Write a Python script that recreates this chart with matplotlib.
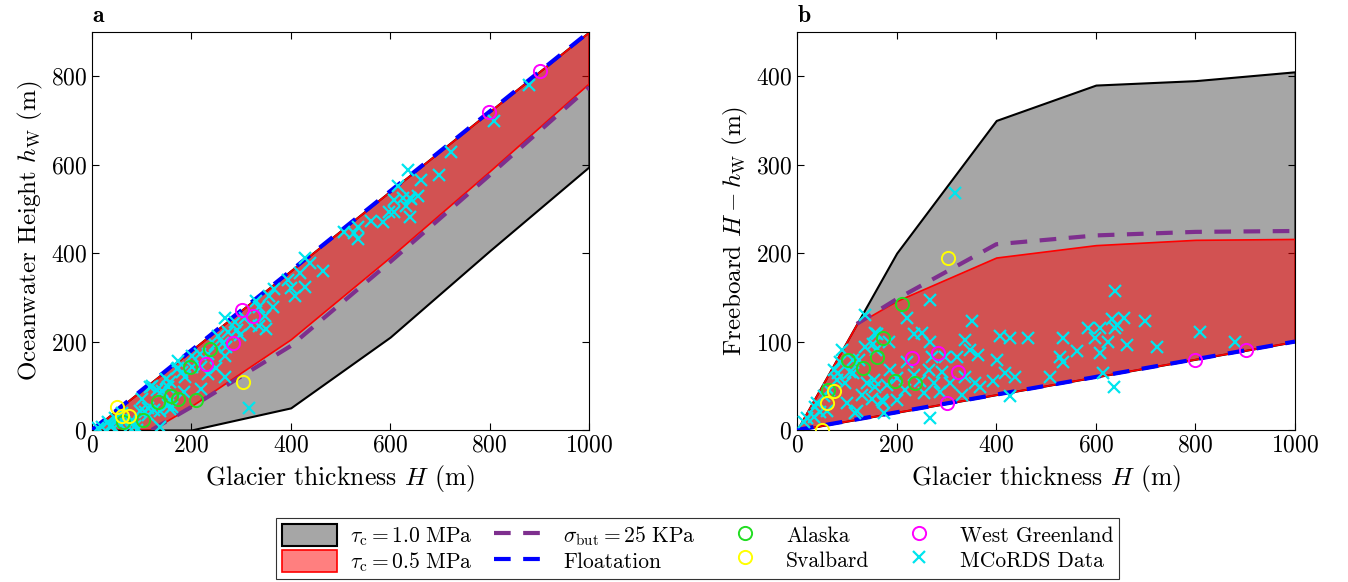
import matplotlib
matplotlib.use("Agg")
import matplotlib.pyplot as plt
import numpy as np
from matplotlib.patches import Patch
from matplotlib.lines import Line2D

plt.rcParams["font.family"] = "serif"
plt.rcParams["font.serif"] = ["cmr10", "DejaVu Serif"]
plt.rcParams["mathtext.fontset"] = "cm"
plt.rcParams["axes.formatter.use_mathtext"] = True

# model envelopes: glacier thickness vs. max freeboard (H - hw)
H_env = [0, 120, 200, 400, 600, 800, 1000]
fb_tau10 = [0, 120, 200, 350, 390, 395, 405]
fb_tau05 = [0, 120, 146, 195, 209, 215, 216]
H_but = [120, 200, 400, 600, 800, 1000]
fb_but = [120, 148, 210, 220, 224, 225]
H_float = [0, 1000]
hw_float = [0, 900]

# observations (H, oceanwater height)
H_alaska = [63, 102, 133, 160, 173, 197, 210, 237]
hw_alaska = [18, 23, 63, 77, 69, 142, 68, 184]
H_svalbard = [51, 61, 75, 304]
hw_svalbard = [51, 31, 31, 109]
H_wgreen = [230, 284, 301, 324, 799, 902]
hw_wgreen = [149, 197, 271, 258, 720, 811]

# MCoRDS: thickness and freeboard
H_mcords = [137, 161, 185, 153, 158, 124, 87, 107, 74, 80, 64, 97, 141, 154, 181, 187,
            117, 171, 174, 33, 40, 54, 201, 201,
            267, 220, 351, 234, 250, 337, 408, 267, 348, 270, 297, 321, 364, 401, 220, 291,
            234, 264, 337, 247, 274, 307, 357, 394, 367, 217, 254, 287, 331, 267,
            639, 428, 464, 535, 585, 608, 632, 639, 598, 625, 528, 562, 535, 608, 438, 418,
            508, 615, 636, 428,
            656, 642, 699, 809, 662, 722, 880,
            157, 173, 120, 36, 83, 113, 90, 137, 113, 157, 317, 13, 20, 47, 60, 100, 130, 150]
fb_mcords = [130, 108, 100, 97, 91, 79, 77, 66, 68, 57, 45, 53, 53, 57, 51, 68,
             19, 34, 19, 15, 30, 38, 59, 34,
             147, 127, 123, 108, 110, 102, 106, 100, 91, 83, 83, 83, 85, 79, 77, 66,
             62, 68, 60, 55, 53, 53, 53, 55, 49, 45, 42, 43, 40, 13,
             157, 104, 104, 104, 115, 115, 125, 115, 104, 100, 83, 89, 77, 87, 60, 64,
             60, 64, 49, 38,
             127, 119, 123, 111, 96, 94, 100,
             110, 32, 21, 26, 64, 79, 91, 94, 64, 49, 268, 9, 14, 20, 22, 30, 40, 35]

H_env = np.array(H_env)
fb_tau10 = np.array(fb_tau10)
fb_tau05 = np.array(fb_tau05)
H_but = np.array(H_but)
fb_but = np.array(fb_but)
H_float = np.array(H_float)
hw_float = np.array(hw_float)
H_mcords = np.array(H_mcords)
fb_mcords = np.array(fb_mcords)
hw_mcords = H_mcords - fb_mcords
hw_float_env = np.interp(H_env, H_float, hw_float)

gray = "#a6a6a6"
red_face = (1, 0, 0, 0.5)
purple = "#7e2f8e"

fig = plt.figure(figsize=(13.48, 5.82), dpi=100)
ax1 = fig.add_axes([0.0682, 0.2612, 0.3687, 0.6838])
ax2 = fig.add_axes([0.5913, 0.2612, 0.3694, 0.6838])

mk_circle = dict(marker="o", ls="none", mfc="none", ms=9.5, mew=1.4)
mk_cross = dict(marker="x", ls="none", color="#00e5ee", ms=8, mew=1.6)

for ax, panel in [(ax1, "a"), (ax2, "b")]:
    if panel == "a":
        lo10, lo05, up = H_env - fb_tau10, H_env - fb_tau05, hw_float_env
        but = H_but - fb_but
        fl = hw_float
        obs = lambda H, hw: (np.array(H), np.array(hw))
    else:
        lo10, lo05, up = fb_tau10, fb_tau05, H_env - hw_float_env
        but = fb_but
        fl = H_float - hw_float
        obs = lambda H, hw: (np.array(H), np.array(H) - np.array(hw))

    ax.fill_between(H_env, lo10, up, facecolor=gray, edgecolor="k", lw=1.5, zorder=1)
    ax.fill_between(H_env, lo05, up, facecolor=red_face, edgecolor="red", lw=1.2, zorder=2)
    ax.plot(H_but, but, ls=(0, (4, 3)), color=purple, lw=3, zorder=3)
    ax.plot(H_float, fl, ls=(0, (4, 3)), color="#0000ff", lw=3, zorder=4)

    x, y = obs(H_mcords, hw_mcords)
    ax.plot(x, y, zorder=5, **mk_cross)
    x, y = obs(H_alaska, hw_alaska)
    ax.plot(x, y, mec="#22dd22", zorder=6, **mk_circle)
    x, y = obs(H_svalbard, hw_svalbard)
    ax.plot(x, y, mec="#ffff00", zorder=6, **mk_circle)
    x, y = obs(H_wgreen, hw_wgreen)
    ax.plot(x, y, mec="#ff00ff", zorder=6, **mk_circle)

    ax.set_xlim(0, 1000)
    ax.set_xticks(range(0, 1001, 200))
    ax.tick_params(direction="in", top=True, right=True, labelsize=17, length=5)
    ax.set_xlabel(r"Glacier thickness $H$ (m)", fontsize=18.5)
    ax.text(0.0, 1.012, r"$\mathbf{%s}$" % panel, transform=ax.transAxes,
            ha="left", va="bottom", fontsize=17)

ax1.set_ylim(0, 900)
ax1.set_yticks(range(0, 801, 200))
ax1.set_ylabel(r"Oceanwater Height $h_{\rm W}$ (m)", fontsize=18)
ax2.set_ylim(0, 450)
ax2.set_yticks(range(0, 401, 100))
ax2.set_ylabel(r"Freeboard $H - h_{\rm W}$ (m)", fontsize=18)

handles = [
    Patch(facecolor=gray, edgecolor="k", lw=1.5),
    Patch(facecolor=red_face, edgecolor="red", lw=1.2),
    Line2D([], [], ls=(0, (4, 3)), color=purple, lw=3),
    Line2D([], [], ls=(0, (4, 3)), color="#0000ff", lw=3),
    Line2D([], [], mec="#22dd22", **mk_circle),
    Line2D([], [], mec="#ffff00", **mk_circle),
    Line2D([], [], mec="#ff00ff", **mk_circle),
    Line2D([], [], **mk_cross),
]
labels = [
    r"$\tau_{\rm c} = 1.0\ \mathrm{MPa}$",
    r"$\tau_{\rm c} = 0.5\ \mathrm{MPa}$",
    r"$\sigma_{\rm but} = 25\ \mathrm{KPa}$",
    "Floatation",
    "Alaska",
    "Svalbard",
    "West Greenland",
    "MCoRDS Data",
]
leg = fig.legend(handles, labels, ncol=4, loc="center", bbox_to_anchor=(0.5174, 0.057),
                 bbox_transform=fig.transFigure, fontsize=15.5, frameon=True, fancybox=False,
                 edgecolor="k", handlelength=2.6, handleheight=1.2, columnspacing=1.0,
                 handletextpad=0.6, borderpad=0.25, labelspacing=0.1)
leg.get_frame().set_linewidth(0.8)

plt.savefig("out.png", dpi=100)
